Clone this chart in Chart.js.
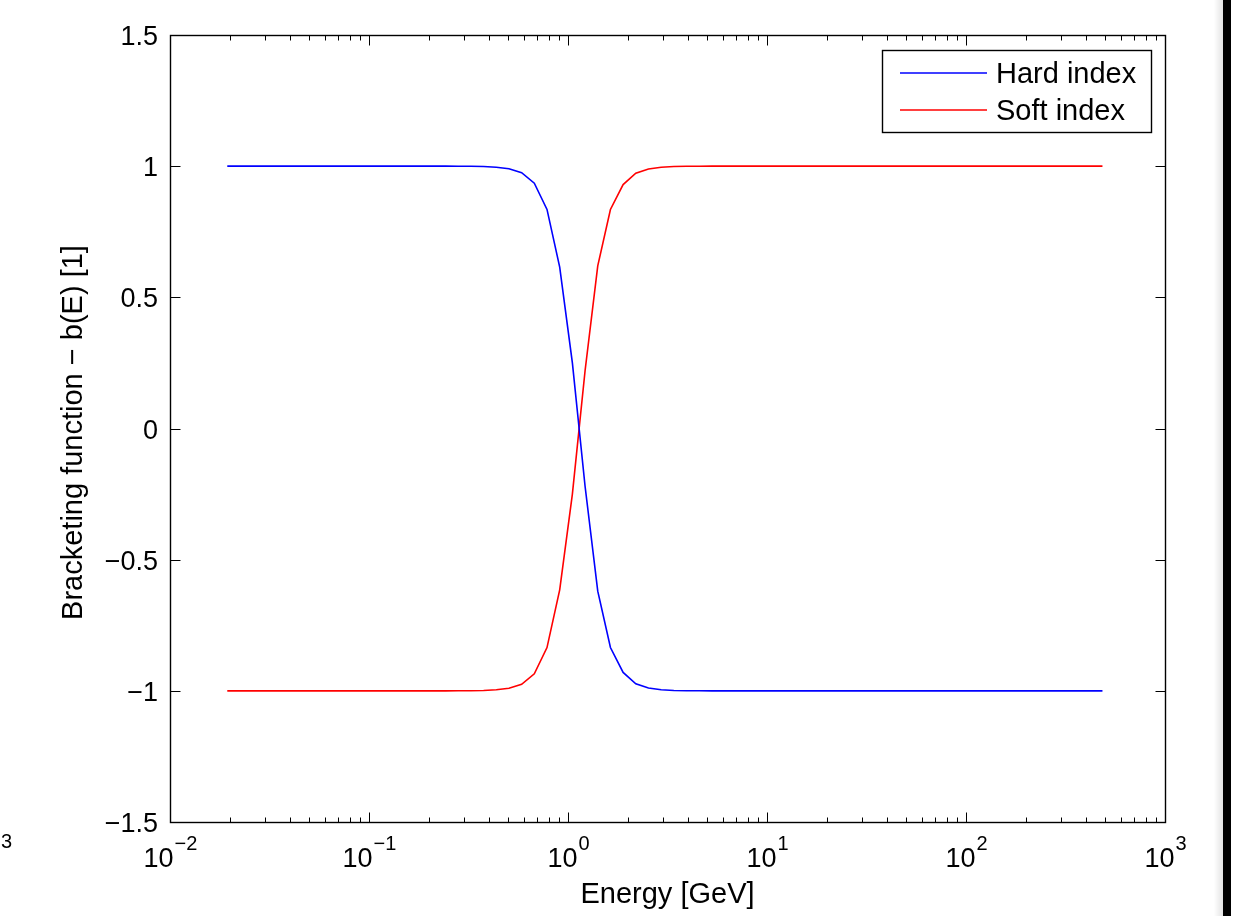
<!DOCTYPE html>
<html>
<head>
<meta charset="utf-8">
<title>Bracketing function</title>
<script src="https://cdn.jsdelivr.net/npm/chart.js@4/dist/chart.umd.min.js"></script>
<style>
  html, body { margin: 0; padding: 0; background: #ffffff; }
  #wrap { position: relative; width: 1233px; height: 916px; }
</style>
</head>
<body>
<div id="wrap"><canvas id="chart"></canvas></div>
<script>
// Sampled energies [GeV] (log-spaced grid, flat tails collapsed to their end points)
const energyGeV = [0.0194, 0.2424, 0.2808, 0.3252, 0.3765, 0.4361, 0.5050, 0.5848, 0.6772,
  0.7843, 0.9084, 1.0520, 1.2184, 1.4110, 1.6339, 1.8923, 2.1914, 2.5380, 2.9393,
  3.4041, 3.9420, 4.5658, 5.2871, 485];
// b(E) for the hard-index bracket
const hardIndex = [1, 1, 0.9998, 0.9994, 0.9985, 0.996, 0.990, 0.975, 0.935,
  0.835, 0.615, 0.25, -0.22, -0.62, -0.835, -0.93, -0.973, -0.989, -0.996,
  -0.9985, -0.9994, -0.9998, -1, -1];
// b(E) for the soft-index bracket
const softIndex = [-1, -1, -0.9998, -0.9994, -0.9985, -0.996, -0.990, -0.975, -0.935,
  -0.835, -0.615, -0.25, 0.22, 0.62, 0.835, 0.93, 0.973, 0.989, 0.996,
  0.9985, 0.9994, 0.9998, 1, 1];

const seriesNames = ['Hard index', 'Soft index'];
const seriesColors = ['#0000ff', '#ff0000'];

// Axis ticks
const xTickExponents = [-2, -1, 0, 1, 2, 3];
const yTickValues = [-1.5, -1, -0.5, 0, 0.5, 1, 1.5];
const yTickLabels = ['\u22121.5', '\u22121', '\u22120.5', '0', '0.5', '1', '1.5'];
const xAxisTitle = 'Energy [GeV]';
const yAxisTitle = 'Bracketing function \u2212 b(E) [1]';

const FONT = "'Liberation Sans', Arial, Helvetica, sans-serif";

function toPoints(xs, ys) {
  return xs.map((x, i) => ({ x: x, y: ys[i] }));
}

const frame = {
  id: 'matlabFrame',
  afterDraw(chart) {
    const ctx = chart.ctx;
    const a = chart.chartArea;
    const xs = chart.scales.x;
    const ys = chart.scales.y;
    const L = Math.round(a.left) + 0.5, R = Math.round(a.right) + 0.5;
    const T = Math.round(a.top) + 0.5, B = Math.round(a.bottom) + 0.5;
    ctx.save();

    // axes box
    ctx.strokeStyle = '#000';
    ctx.lineWidth = 1.4;
    ctx.strokeRect(L, T, R - L, B - T);

    // inward ticks
    ctx.lineWidth = 1;
    ctx.beginPath();
    yTickValues.forEach(v => {
      const py = Math.round(ys.getPixelForValue(v)) + 0.5;
      ctx.moveTo(L, py); ctx.lineTo(L + 10, py);
      ctx.moveTo(R, py); ctx.lineTo(R - 10, py);
    });
    xTickExponents.forEach((e, k) => {
      const dec = Math.pow(10, e);
      const px = Math.round(xs.getPixelForValue(dec)) + 0.5;
      ctx.moveTo(px, B); ctx.lineTo(px, B - 10);
      ctx.moveTo(px, T); ctx.lineTo(px, T + 10);
      if (k < xTickExponents.length - 1) {
        for (let m = 2; m <= 9; m++) {
          const mx = Math.round(xs.getPixelForValue(m * dec)) + 0.5;
          ctx.moveTo(mx, B); ctx.lineTo(mx, B - 5);
          ctx.moveTo(mx, T); ctx.lineTo(mx, T + 5);
        }
      }
    });
    ctx.stroke();

    // y tick labels
    ctx.fillStyle = '#000';
    ctx.font = '27px ' + FONT;
    ctx.textAlign = 'right';
    ctx.textBaseline = 'alphabetic';
    yTickValues.forEach((v, i) => {
      const py = ys.getPixelForValue(v);
      ctx.fillText(yTickLabels[i], a.left - 12, py + 10);
    });

    // x tick labels: 10 with superscript exponent
    ctx.textAlign = 'left';
    xTickExponents.forEach(e => {
      const px = xs.getPixelForValue(Math.pow(10, e));
      const sup = e < 0 ? '\u2212' + Math.abs(e) : String(e);
      ctx.font = '27px ' + FONT;
      const wb = ctx.measureText('10').width;
      ctx.font = '20px ' + FONT;
      const ws = ctx.measureText(sup).width;
      const x0 = px - (wb + ws) / 2;
      ctx.font = '27px ' + FONT;
      ctx.fillText('10', x0, 867);
      ctx.font = '20px ' + FONT;
      ctx.fillText(sup, x0 + wb + 1, 850);
    });

    // axis titles
    ctx.font = '29px ' + FONT;
    ctx.textAlign = 'center';
    ctx.fillText(xAxisTitle, (a.left + a.right) / 2, 903);
    ctx.save();
    ctx.translate(82, (a.top + a.bottom) / 2 + 4);
    ctx.rotate(-Math.PI / 2);
    ctx.fillText(yAxisTitle, 0, 0);
    ctx.restore();

    // legend
    const lx = 882.5, ly = 50.5, lw = 269, lh = 82;
    ctx.fillStyle = '#fff';
    ctx.fillRect(lx, ly, lw, lh);
    ctx.strokeStyle = '#000';
    ctx.lineWidth = 1.4;
    ctx.strokeRect(lx, ly, lw, lh);
    const rows = [73, 110];
    ctx.font = '29px ' + FONT;
    ctx.textAlign = 'left';
    seriesNames.forEach((name, i) => {
      ctx.strokeStyle = seriesColors[i];
      ctx.lineWidth = 1.6;
      ctx.beginPath();
      ctx.moveTo(900, rows[i]); ctx.lineTo(987, rows[i]);
      ctx.stroke();
      ctx.fillStyle = '#000';
      ctx.fillText(name, 996, rows[i] + 10);
    });

    // stray exponent at the left edge and the dark strip at the right edge
    ctx.font = '20px ' + FONT;
    ctx.fillText('3', 1, 848);
    const g = ctx.createLinearGradient(1214, 0, 1224, 0);
    g.addColorStop(0, 'rgba(0,0,0,0)');
    g.addColorStop(1, 'rgba(0,0,0,0.12)');
    ctx.fillStyle = g;
    ctx.fillRect(1214, 0, 10, chart.height);
    ctx.fillStyle = '#000';
    ctx.fillRect(1223, 0, 8, chart.height);
    ctx.restore();
  }
};

new Chart(document.getElementById('chart'), {
  type: 'line',
  data: {
    datasets: [
      { label: seriesNames[0], data: toPoints(energyGeV, hardIndex), borderColor: seriesColors[0],
        borderWidth: 1.6, pointRadius: 0, tension: 0, fill: false },
      { label: seriesNames[1], data: toPoints(energyGeV, softIndex), borderColor: seriesColors[1],
        borderWidth: 1.6, pointRadius: 0, tension: 0, fill: false }
    ]
  },
  options: {
    responsive: true,
    maintainAspectRatio: false,
    animation: false,
    events: [],
    layout: { padding: { top: 35, right: 68, left: 0, bottom: 0 } },
    plugins: { legend: { display: false }, tooltip: { enabled: false }, title: { display: false } },
    scales: {
      x: {
        type: 'logarithmic', min: 0.01, max: 1000,
        grid: { display: false }, border: { display: false }, ticks: { display: false },
        afterFit(s) { s.height = 94; }
      },
      y: {
        type: 'linear', min: -1.5, max: 1.5,
        grid: { display: false }, border: { display: false }, ticks: { display: false },
        afterFit(s) { s.width = 170; }
      }
    }
  },
  plugins: [frame]
});
</script>
</body>
</html>
